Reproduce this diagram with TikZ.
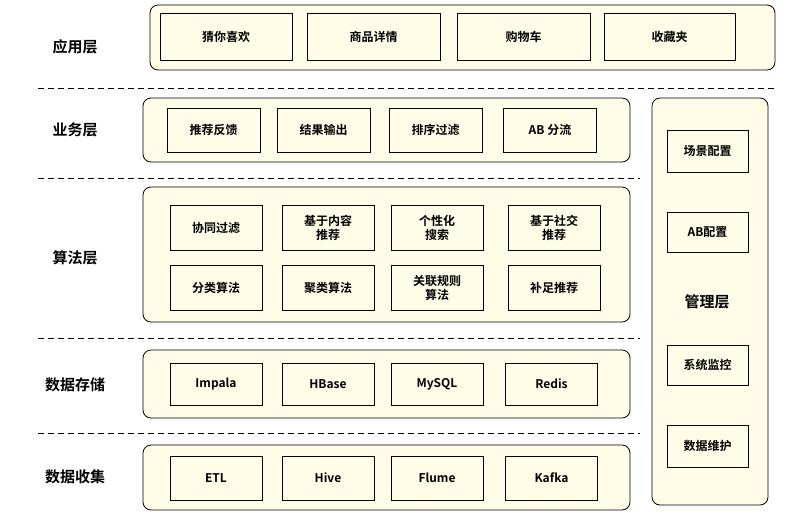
\documentclass[tikz,border=0pt]{standalone}
\usepackage{fontspec}
\newfontfamily\cjk{Noto Sans CJK SC}[BoldFont={Noto Sans CJK SC Bold}]
\usetikzlibrary{positioning}

\definecolor{cream}{RGB}{255,253,232}
\tikzset{
  layer/.style={draw, thick, rounded corners=8pt, fill=cream},
  cell/.style={draw, thick, fill=cream, font=\cjk\fontsize{12}{14}\selectfont\bfseries, align=center, inner sep=0pt},
  tag/.style={font=\cjk\fontsize{15}{17}\selectfont\bfseries},
  sep/.style={thick, dash pattern=on 6pt off 4pt}
}

\begin{document}
\begin{tikzpicture}[x=1pt, y=-1pt]
\useasboundingbox (0,0) rectangle (806,512);

% Layer frames
\node [layer, minimum width=625, minimum height=65] (app) at (462.5,37.5) {};
\node [layer, minimum width=487, minimum height=64] (biz) at (386.5,130) {};
\node [layer, minimum width=487, minimum height=135] (alg) at (386.5,254.5) {};
\node [layer, minimum width=487, minimum height=68] (store) at (386.5,384) {};
\node [layer, minimum width=487, minimum height=65] (coll) at (386.5,477.5) {};
\node [layer, minimum width=116, minimum height=407] (mgr) at (710,301.5) {};

% Layer labels
\node [tag] (tapp) at (75,47) {应用层};
\node [tag] (tbiz) at (75,130) {业务层};
\node [tag] (talg) at (75,258) {算法层};
\node [tag] (tstore) at (75,385) {数据存储};
\node [tag] (tcoll) at (75,477) {数据收集};
\node [tag] (tmgr) at (707,302) {管理层};

% Separators
\coordinate (s1a) at (38,88);  \coordinate (s1b) at (775,88);
\coordinate (s2a) at (38,178); \coordinate (s2b) at (640,178);
\coordinate (s3a) at (38,338); \coordinate (s3b) at (640,338);
\coordinate (s4a) at (38,433); \coordinate (s4b) at (640,433);
\draw [sep] (s1a) -- (s1b);
\draw [sep] (s2a) -- (s2b);
\draw [sep] (s3a) -- (s3b);
\draw [sep] (s4a) -- (s4b);

% Application
\node [cell, minimum width=132, minimum height=47] (guess) at (226,36.5) {猜你喜欢};
\node [cell, minimum width=133, minimum height=47] (detail) at (373.5,36.5) {商品详情};
\node [cell, minimum width=133, minimum height=47] (cart) at (523.5,36.5) {购物车};
\node [cell, minimum width=131, minimum height=47] (fav) at (669.5,36.5) {收藏夹};

% Business
\foreach \n/\x/\t in {fb/213.5/推荐反馈, out/323.5/结果输出, sort/435.5/排序过滤, ab/550/AB 分流}
  \node [cell, minimum width=93, minimum height=44] (\n) at (\x,130) {\t};

% Algorithms
\foreach \n/\x/\t in {cf/216/协同过滤, cb/328/基于内容\\推荐, ps/437/个性化\\搜索, sc/554/基于社交\\推荐}
  \node [cell, minimum width=92, minimum height=45] (\n) at (\x,227.5) {\t};
\foreach \n/\x/\t in {cls/216/分类算法, clu/328/聚类算法, ar/437/关联规则\\算法, sup/554/补足推荐}
  \node [cell, minimum width=92, minimum height=45] (\n) at (\x,287.5) {\t};

% Storage
\foreach \n/\x/\t in {impala/216/Impala, hbase/328/HBase, mysql/437/MySQL, redis/551.5/Redis}
  \node [cell, minimum width=92, minimum height=42] (\n) at (\x,384) {\t};

% Collection
\foreach \n/\x/\t in {etl/216/ETL, hive/328/Hive, flume/437/Flume, kafka/551.5/Kafka}
  \node [cell, minimum width=92, minimum height=44] (\n) at (\x,478) {\t};

% Management
\node [cell, minimum width=81, minimum height=42] (scene) at (707.5,151) {场景配置};
\node [cell, minimum width=81, minimum height=40] (abc) at (707.5,232) {AB配置};
\node [cell, minimum width=81, minimum height=40] (mon) at (707.5,365) {系统监控};
\node [cell, minimum width=81, minimum height=42] (dm) at (707.5,446) {数据维护};
\end{tikzpicture}
\end{document}
